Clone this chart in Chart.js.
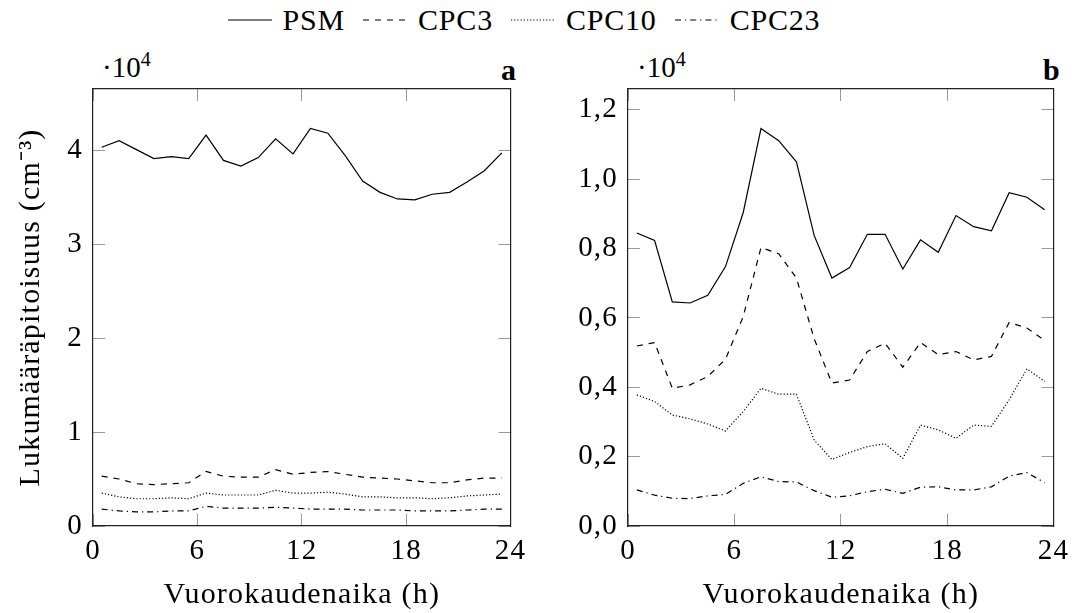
<!DOCTYPE html>
<html>
<head>
<meta charset="utf-8">
<script src="https://cdn.jsdelivr.net/npm/chart.js@4.4.1/dist/chart.umd.min.js"></script>
<style>
  body { margin: 0; width: 1088px; height: 613px; background: #fff; position: relative; overflow: hidden;
         font-family: 'Liberation Serif', 'Times New Roman', serif; color: #000; }
  canvas { position: absolute; top: 0; }
  #chartA { left: 0; }
  #chartB { left: 545px; }
  .legend { position: absolute; top: 0; left: 0; width: 1048px; height: 40px; display: flex;
            justify-content: center; align-items: center; font-size: 30px; letter-spacing: 0.8px; }
  .legend .item { display: flex; align-items: center; margin: 0 9px; }
  .legend svg { margin-right: 11px; }
  .mult { position: absolute; top: 51px; font-size: 29px; }
  .mult sup { font-size: 20px; vertical-align: 0; position: relative; top: -11px; }
  .tag { position: absolute; top: 53px; font-size: 30px; font-weight: bold; }
</style>
</head>
<body>
<div class="legend" id="legend"></div>
<div class="mult" style="left:102px">·10<sup>4</sup></div>
<div class="mult" style="left:637px">·10<sup>4</sup></div>
<div class="tag" style="left:501px">a</div>
<div class="tag" style="left:1043px">b</div>
<canvas id="chartA" width="545" height="613"></canvas>
<canvas id="chartB" width="543" height="613"></canvas>
<script>
// hour of day (bin centres)
const hours = [0.5, 1.5, 2.5, 3.5, 4.5, 5.5, 6.5, 7.5, 8.5, 9.5, 10.5, 11.5,
               12.5, 13.5, 14.5, 15.5, 16.5, 17.5, 18.5, 19.5, 20.5, 21.5, 22.5, 23.5];
const hourTicks = [0, 6, 12, 18, 24];

// panel a (cm^-3)
const psmA   = [40300, 41000, 40050, 39100, 39300, 39100, 41600, 38900, 38300, 39200, 41200, 39600,
                42300, 41800, 39400, 36700, 35500, 34800, 34700, 35300, 35500, 36600, 37800, 39700];
const cpc3A  = [5300, 5000, 4500, 4400, 4500, 4600, 5800, 5300, 5200, 5200, 6000, 5500,
                5700, 5800, 5500, 5200, 5100, 5000, 4800, 4600, 4600, 4900, 5100, 5100];
const cpc10A = [3500, 3100, 2900, 2900, 3000, 2900, 3500, 3300, 3300, 3300, 3800, 3500,
                3500, 3600, 3400, 3100, 3100, 3000, 3000, 2900, 3000, 3200, 3300, 3400];
const cpc23A = [1800, 1600, 1500, 1500, 1600, 1600, 2100, 1900, 1900, 1900, 2000, 1900,
                1800, 1800, 1800, 1700, 1700, 1700, 1600, 1600, 1600, 1700, 1800, 1800];
const yTicksA = [0, 10000, 20000, 30000, 40000];

// panel b (cm^-3)
const psmB   = [8450, 8230, 6460, 6430, 6650, 7480, 9040, 11460, 11110, 10500, 8380, 7150,
                7450, 8410, 8410, 7410, 8250, 7890, 8950, 8630, 8510, 9610, 9480, 9120];
const cpc3B  = [5190, 5290, 3970, 4070, 4310, 4810, 6040, 8030, 7850, 7150, 5400, 4120,
                4210, 5030, 5270, 4580, 5290, 4940, 5030, 4790, 4890, 5870, 5710, 5350];
const cpc10B = [3780, 3590, 3200, 3090, 2940, 2740, 3300, 3970, 3800, 3800, 2480, 1920,
                2120, 2290, 2370, 1950, 2910, 2770, 2530, 2910, 2870, 3640, 4530, 4170];
const cpc23B = [1040, 890, 800, 790, 870, 910, 1230, 1420, 1280, 1270, 1020, 830,
                870, 990, 1060, 940, 1120, 1130, 1040, 1040, 1130, 1440, 1540, 1250];
const yTicksB = [0, 2000, 4000, 6000, 8000, 10000, 12000];

const seriesNames = ['PSM', 'CPC3', 'CPC10', 'CPC23'];
const seriesDash = [[], [6, 6], [1.2, 2], [6, 4, 1.2, 4]];

const FONT = "'Liberation Serif', 'Times New Roman', serif";
const TICK_GRAY = '#999999';
const BORDER = '#222222';

// legend
const legend = document.getElementById('legend');
seriesNames.forEach((name, i) => {
    const item = document.createElement('div');
    item.className = 'item';
    item.innerHTML = `<svg width="44" height="6"><line x1="0" y1="3" x2="44" y2="3" stroke="#000" stroke-width="1.2"
        stroke-dasharray="${seriesDash[i].join(' ') || 'none'}"/></svg><span>${name}</span>`;
    legend.appendChild(item);
});

function buildDatasets(values) {
    return values.map((vals, i) => ({
        label: seriesNames[i],
        data: hours.map((h, j) => ({ x: h, y: vals[j] })),
        borderColor: '#000',
        borderWidth: 1.2,
        borderDash: seriesDash[i],
        pointRadius: 0,
        tension: 0,
        fill: false
    }));
}

const tickGrid = { drawOnChartArea: false, drawTicks: true, tickLength: -12, color: TICK_GRAY, lineWidth: 1 };
const axisBorder = { display: true, color: BORDER, width: 1.2 };

function setTicks(values) {
    return scale => { scale.ticks = values.map(v => ({ value: v })); };
}

function mirrorAxis(position, max, tickValues) {
    return {
        type: 'linear', position: position, min: 0, max: max, bounds: 'data',
        afterBuildTicks: setTicks(tickValues),
        ticks: { display: false },
        border: axisBorder,
        grid: tickGrid,
        afterFit: s => { if (s.isHorizontal()) s.height = 0; else s.width = 0; }
    };
}

// Computer Modern is wider than Times, so space the canvas text out a little
const spacingPlugin = {
    id: 'spacing',
    beforeDraw: chart => { chart.ctx.letterSpacing = '1.2px'; }
};

function makeChart(id, values, yMax, yTickValues, yFormat, leftWidth, padRight, yTitle) {
    const ctx = document.getElementById(id).getContext('2d');
    return new Chart(ctx, {
        type: 'line',
        data: { datasets: buildDatasets(values) },
        plugins: [spacingPlugin],
        options: {
            responsive: false,
            animation: false,
            layout: { padding: { top: 89, right: padRight, left: 0, bottom: 0 } },
            plugins: { legend: { display: false }, tooltip: { enabled: false } },
            scales: {
                x: {
                    type: 'linear', position: 'bottom', min: 0, max: 24, bounds: 'data',
                    afterBuildTicks: setTicks(hourTicks),
                    ticks: { color: '#000', font: { family: FONT, size: 29 }, padding: 20,
                             maxRotation: 0, autoSkip: false },
                    border: axisBorder,
                    grid: tickGrid,
                    title: { display: true, text: 'Vuorokaudenaika (h)', color: '#000',
                             font: { family: FONT, size: 30 }, padding: { top: 12, bottom: 0 } },
                    afterFit: s => { s.height = 87; }
                },
                x2: mirrorAxis('top', 24, hourTicks),
                y: {
                    type: 'linear', position: 'left', min: 0, max: yMax, bounds: 'data',
                    afterBuildTicks: setTicks(yTickValues),
                    ticks: { color: '#000', font: { family: FONT, size: 29 }, padding: 22,
                             autoSkip: false, callback: v => yFormat(v) },
                    border: axisBorder,
                    grid: tickGrid,
                    title: { display: !!yTitle, text: yTitle || '', color: '#000',
                             font: { family: FONT, size: 30 }, padding: { top: 13, bottom: 0 } },
                    afterFit: s => { s.width = leftWidth; }
                },
                y2: mirrorAxis('right', yMax, yTickValues)
            }
        }
    });
}

makeChart('chartA', [psmA, cpc3A, cpc10A, cpc23A], 46500, yTicksA,
          v => String(Math.round(v / 10000)), 93, 16, 'Lukumääräpitoisuus (cm⁻³)');
makeChart('chartB', [psmB, cpc3B, cpc10B, cpc23B], 12600, yTicksB,
          v => (v / 10000).toFixed(1).replace('.', ','), 83, 24, null);
</script>
</body>
</html>
